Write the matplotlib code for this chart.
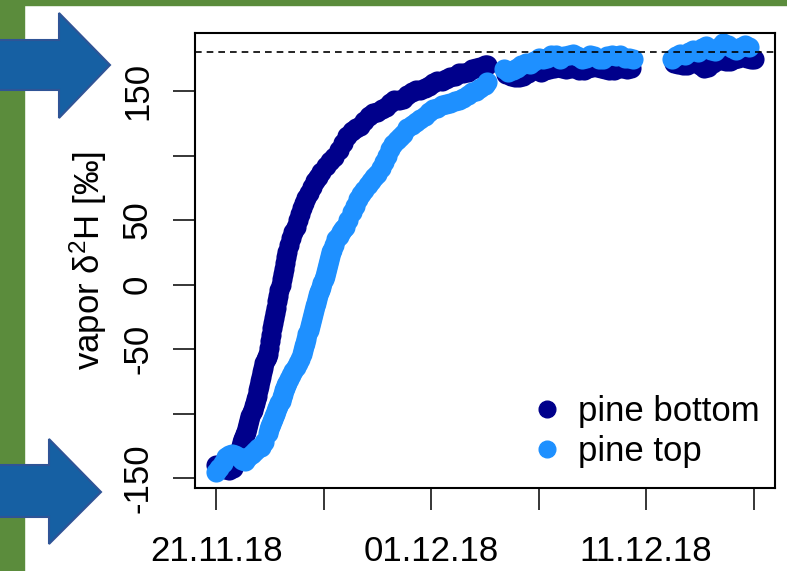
import matplotlib
matplotlib.use("Agg")
import matplotlib.pyplot as plt
import matplotlib.patches as mpatches
from matplotlib.lines import Line2D
import pandas as pd

plt.rcParams['font.family'] = ['Liberation Sans', 'DejaVu Sans']
plt.rcParams['mathtext.fontset'] = 'custom'
plt.rcParams['mathtext.rm'] = 'Liberation Sans'
plt.rcParams['mathtext.default'] = 'regular'

start = pd.Timestamp('2018-11-21')

# pine bottom: days since 21.11.18, vapor d2H
bottom_days = [0.0, 0.2, 0.4, 0.6, 0.8,
               1.0, 1.05, 1.1, 1.15, 1.2, 1.25, 1.3, 1.35, 1.4, 1.45, 1.5, 1.55, 1.6, 1.65,
               1.7, 1.75, 1.8, 1.85, 1.9, 1.95, 2.0, 2.05, 2.1, 2.15, 2.2, 2.25, 2.3, 2.35,
               2.4, 2.45, 2.5, 2.55, 2.6, 2.65, 2.7, 2.75, 2.8, 2.85, 2.9, 2.95, 3.0, 3.05,
               3.1, 3.15, 3.2, 3.25, 3.3, 3.4,
               3.5, 3.6, 3.7, 3.8, 3.9, 4.0, 4.1, 4.2, 4.3, 4.45, 4.6, 4.75, 4.9, 5.1, 5.3,
               5.5, 5.7, 5.9, 6.1, 6.3, 6.5, 6.7, 6.9, 7.1, 7.3, 7.5, 7.7, 7.9, 8.1, 8.3,
               8.5, 8.7, 8.9, 9.1, 9.3, 9.5, 9.7, 9.9, 10.1, 10.3, 10.5, 10.7, 10.9, 11.1,
               11.3, 11.5, 11.7, 11.9, 12.1, 12.3, 12.5, 12.6,
               13.5, 13.7, 13.9, 14.1, 14.3, 14.5, 14.7, 14.9, 15.1, 15.3, 15.5, 15.7, 15.9,
               16.1, 16.3, 16.5, 16.7, 16.9, 17.1, 17.3, 17.5, 17.7, 17.9, 18.1, 18.3, 18.5,
               18.7, 18.9, 19.1, 19.3,
               21.3, 21.5, 21.7, 21.9, 22.1, 22.3, 22.5, 22.7, 22.9, 23.1, 23.3, 23.5, 23.7,
               23.9, 24.1, 24.3, 24.5, 24.7, 24.9, 25.0]
bottom_vals = [-140, -141, -143, -144, -142,
               -134, -131, -128, -125, -122, -120, -118, -116, -114, -111, -108, -105, -102, -99,
               -97, -94, -92, -89, -86, -82, -79, -75, -72, -68, -65, -61, -58, -56,
               -54, -49, -44, -39, -34, -30, -26, -22, -18, -13, -9, -4, 0, 4,
               8, 12, 17, 21, 25, 31,
               36, 41, 45, 50, 55, 59, 63, 67, 71, 76, 80, 83, 87, 92, 96,
               99, 104, 110, 115, 119, 121, 123, 127, 131, 133, 134, 136, 138, 141, 143,
               143, 144, 147, 149, 151, 151, 152, 154, 156, 158, 158, 159, 161, 162,
               164, 164, 165, 167, 168, 169, 170, 170,
               163, 162, 161, 161, 162, 164, 166, 166, 165, 166, 167, 168, 169,
               168, 167, 168, 168, 166, 166, 168, 169, 169, 168, 167, 166, 166,
               168, 168, 167, 168,
               172, 171, 170, 170, 172, 173, 170, 168, 169, 172, 174, 174, 173,
               173, 175, 176, 177, 176, 175, 175]

# pine top
top_days = [0.0, 0.15, 0.3, 0.45, 0.6, 0.75, 0.9, 1.05, 1.2, 1.35, 1.5, 1.65, 1.8, 1.95, 2.1,
            2.25, 2.4, 2.45, 2.5, 2.55, 2.6, 2.65, 2.7, 2.75, 2.8, 2.85, 2.9, 2.95, 3.0,
            3.05, 3.1, 3.15, 3.2, 3.25, 3.3, 3.4, 3.5, 3.6, 3.7, 3.8, 3.9,
            4.0, 4.05, 4.1, 4.15, 4.2, 4.25, 4.3, 4.35, 4.4, 4.45, 4.5, 4.55, 4.6, 4.65,
            4.7, 4.75, 4.8, 4.85, 4.9, 4.95, 5.0, 5.05, 5.1, 5.15, 5.2, 5.25, 5.3, 5.35,
            5.4, 5.5, 5.6, 5.7, 5.8, 5.9, 6.0, 6.15, 6.3, 6.45, 6.6, 6.75, 6.9, 7.05,
            7.2, 7.35, 7.5, 7.65, 7.8, 7.95, 8.1, 8.25, 8.4, 8.55, 8.7, 8.9, 9.1, 9.3,
            9.5, 9.7, 9.9, 10.1, 10.3, 10.5, 10.7, 10.9, 11.1, 11.3, 11.5, 11.7, 11.9,
            12.1, 12.3, 12.5, 12.6,
            13.4, 13.6, 13.8, 14.0, 14.2, 14.4, 14.6, 14.8, 15.0, 15.2, 15.4, 15.6, 15.8,
            16.0, 16.2, 16.4, 16.6, 16.8, 17.0, 17.2, 17.4, 17.6, 17.8, 18.0, 18.2, 18.4,
            18.6, 18.8, 19.0, 19.2, 19.4,
            21.2, 21.4, 21.6, 21.8, 22.0, 22.2, 22.4, 22.6, 22.8, 23.0, 23.2, 23.4, 23.6,
            23.8, 24.0, 24.2, 24.4, 24.6, 24.8]
top_vals = [-145, -142, -138, -134, -132, -131, -132, -134, -136, -137, -134, -131, -129, -127, -126,
            -122, -115, -112, -110, -108, -106, -104, -102, -100, -98, -96, -94, -92, -90,
            -87, -85, -82, -80, -78, -76, -73, -70, -67, -64, -61, -58,
            -54, -51, -48, -45, -42, -38, -35, -32, -29, -26, -23, -20, -17, -14,
            -11, -8, -6, -4, -2, 1, 4, 7, 10, 13, 16, 19, 22, 25,
            27, 31, 35, 38, 41, 43, 45, 50, 56, 61, 66, 70, 73, 77,
            80, 83, 86, 90, 95, 100, 105, 109, 112, 114, 117, 121, 124, 126,
            128, 131, 134, 136, 137, 139, 140, 141, 142, 143, 145, 147, 149,
            150, 152, 155, 157,
            167, 165, 166, 168, 170, 172, 171, 173, 176, 175, 176, 178, 178,
            175, 177, 178, 179, 177, 175, 176, 178, 177, 175, 175, 177, 178,
            177, 178, 176, 176, 175,
            175, 177, 179, 178, 180, 182, 180, 183, 185, 182, 181, 184, 187,
            186, 183, 182, 184, 186, 184]

reference_line = 180
yticks = [-150, -100, -50, 0, 50, 100, 150]
ytick_labels = ['-150', '', '-50', '0', '50', '', '150']
xtick_days = [0, 5, 10, 15, 20, 25]
xtick_labels = ['21.11.18', '', '01.12.18', '', '11.12.18', '']

W, H = 787, 571
fig = plt.figure(figsize=(W / 100, H / 100), dpi=100)
fig.patch.set_facecolor('white')

def px(x, y):
    return (x / W, 1 - y / H)

green = '#5b8c3c'
fig.patches.append(mpatches.Rectangle(px(0, H), 24 / W, 1, transform=fig.transFigure,
                                      color=green, zorder=0))
fig.patches.append(mpatches.Rectangle(px(0, 5), 1, 5 / H, transform=fig.transFigure,
                                      color=green, zorder=0))

def arrow(x0, x1, x2, ys0, ys1, yh0, yh1, ytip):
    pts = [px(x0, ys0), px(x1, ys0), px(x1, yh0), px(x2, ytip),
           px(x1, yh1), px(x1, ys1), px(x0, ys1)]
    fig.patches.append(mpatches.Polygon(pts, closed=True, transform=fig.transFigure,
                                        facecolor='#1660a3', edgecolor='#2f5496',
                                        linewidth=1.5, zorder=1))

arrow(-2, 59, 110, 40, 90, 13, 118, 65)
arrow(-2, 49, 101, 465, 517, 439, 544, 492)

ax = fig.add_axes([195 / W, 1 - 488 / H, 580 / W, 455 / H])

bx = [start + pd.Timedelta(days=d) for d in bottom_days]
tx = [start + pd.Timedelta(days=d) for d in top_days]
ax.plot(bx, bottom_vals, 'o', color='#00008b', markersize=14.5, markeredgewidth=0)
ax.plot(tx, top_vals, 'o', color='#1e90ff', markersize=14.5, markeredgewidth=0)
ax.axhline(reference_line, color='black', linestyle=(0, (4, 3)), linewidth=1.2)

ax.set_xlim(start + pd.Timedelta(days=-0.98), start + pd.Timedelta(days=26.0))
ax.set_ylim(-157.7, 195)

ax.set_xticks([start + pd.Timedelta(days=d) for d in xtick_days])
ax.set_xticklabels(xtick_labels, fontsize=25)
ax.set_yticks(yticks)
ax.set_yticklabels(ytick_labels, fontsize=25, rotation=90, va='center')
ax.tick_params(axis='both', direction='out', length=15.5, width=1.1, color='black')
ax.tick_params(axis='x', pad=18)
ax.tick_params(axis='y', pad=14)
for s in ax.spines.values():
    s.set_linewidth(1.5)

ax.set_ylabel('vapor δ$^{2}$H [‰]', fontsize=25)
ax.yaxis.set_label_coords(-0.148, 0.5)

handles = [Line2D([], [], marker='o', linestyle='none', color='#00008b', markersize=12),
           Line2D([], [], marker='o', linestyle='none', color='#1e90ff', markersize=12)]
ax.legend(handles, ['pine bottom', 'pine top'], loc='lower right', frameon=False,
          fontsize=25, handletextpad=0.1, labelspacing=0.2, borderaxespad=0.3,
          handlelength=1.6, bbox_to_anchor=(1.016, -0.01))

fig.savefig('out.png', dpi=100)
